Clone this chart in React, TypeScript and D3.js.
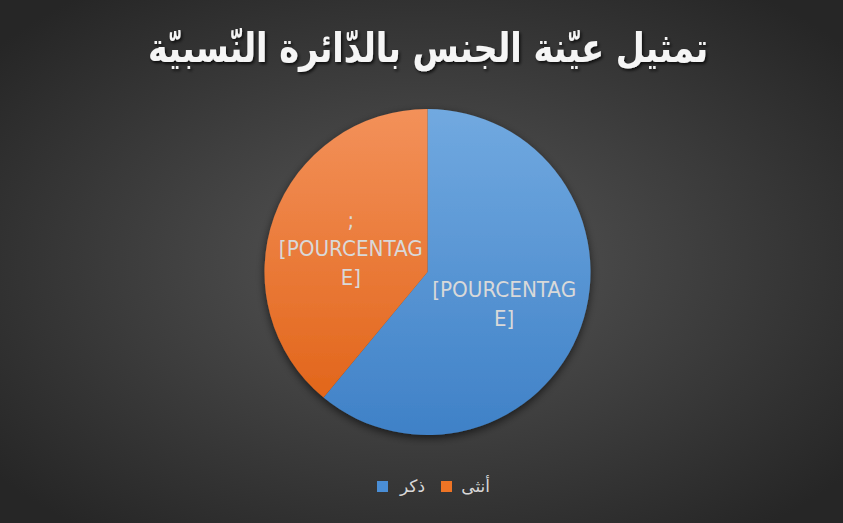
import React from 'react';
import * as d3 from 'd3';

const categories = ['ذكر', 'أنثى'];
const values = [61, 39];
const colorsTop = ['#71a9e0', '#f3915a'];
const colorsBottom = ['#3f81c7', '#e2661b'];
const legendColors = ['#4a8ed6', '#ee7425'];
const labelLines = [['[POURCENTAG', 'E]'], [';', '[POURCENTAG', 'E]']];
const title = 'تمثيل عيّنة الجنس بالدّائرة النّسبيّة';

const W = 843;
const H = 523;

export default function App() {
  const cx = 427.5;
  const cy = 272;
  const R = 163;
  const pie = d3.pie<number>().sort(null).value((d) => d)(values);
  const arc = d3.arc<d3.PieArcDatum<number>>().innerRadius(0).outerRadius(R);
  const lineH = 28.5;

  const legendItems = [
    { i: 1, sq: 441, tx: 490 },
    { i: 0, sq: 377, tx: 425 },
  ];

  return (
    <svg width={W} height={H} style={{ position: 'absolute', left: 0, top: 0 }}>
      <defs>
        <radialGradient id="bg" cx="50%" cy="50%" r="65%">
          <stop offset="0%" stopColor="#575757" />
          <stop offset="100%" stopColor="#262626" />
        </radialGradient>
        {values.map((_, i) => (
          <linearGradient key={i} id={`g${i}`} x1="0" y1="0" x2="0" y2="1">
            <stop offset="0%" stopColor={colorsTop[i]} />
            <stop offset="100%" stopColor={colorsBottom[i]} />
          </linearGradient>
        ))}
        <filter id="ts" x="-10%" y="-30%" width="120%" height="160%">
          <feDropShadow dx="1.5" dy="2" stdDeviation="1.5" floodColor="#000" floodOpacity="0.75" />
        </filter>
        <filter id="ps" x="-20%" y="-20%" width="140%" height="140%">
          <feDropShadow dx="0" dy="3" stdDeviation="4" floodColor="#000" floodOpacity="0.6" />
        </filter>
      </defs>
      <rect x={0} y={0} width={W} height={H} fill="url(#bg)" />
      <text
        x={428}
        y={62}
        textAnchor="middle"
        direction="rtl"
        fontFamily="'DejaVu Sans', sans-serif"
        fontWeight="bold"
        fontSize={41}
        fill="#f5f5f5"
        filter="url(#ts)"
        textLength={560}
        lengthAdjust="spacingAndGlyphs"
      >
        {title}
      </text>
      <g transform={`translate(${cx},${cy})`}>
        <g filter="url(#ps)">
          {pie.map((d, i) => (
            <path key={i} d={arc(d) || ''} fill={`url(#g${i})`} />
          ))}
        </g>
        {pie.map((d, i) => {
          const [lx, ly] = arc.centroid(d);
          const lines = labelLines[i];
          const y0 = ly - ((lines.length - 1) * lineH) / 2 + 4;
          return (
            <text
              key={i}
              textAnchor="middle"
              fontFamily="'Liberation Sans Narrow', 'DejaVu Sans Condensed', 'Roboto', sans-serif"
              fontSize={22}
              fill="#d9d9d9"
            >
              {lines.map((t, j) => (
                <tspan
                  key={j}
                  x={lx}
                  y={y0 + j * lineH}
                  dy="0.35em"
                  {...(t.length > 5 ? { textLength: 144, lengthAdjust: 'spacingAndGlyphs' } : {})}
                >
                  {t}
                </tspan>
              ))}
            </text>
          );
        })}
      </g>
      {legendItems.map((it) => (
        <g key={it.i}>
          <rect x={it.sq} y={481} width={11} height={11} fill={legendColors[it.i]} />
          <text
            x={it.tx}
            y={486}
            dy="0.35em"
            textAnchor="end"
            fontFamily="'DejaVu Sans', sans-serif"
            fontSize={17}
            fill="#d9d9d9"
          >
            {categories[it.i]}
          </text>
        </g>
      ))}
    </svg>
  );
}
